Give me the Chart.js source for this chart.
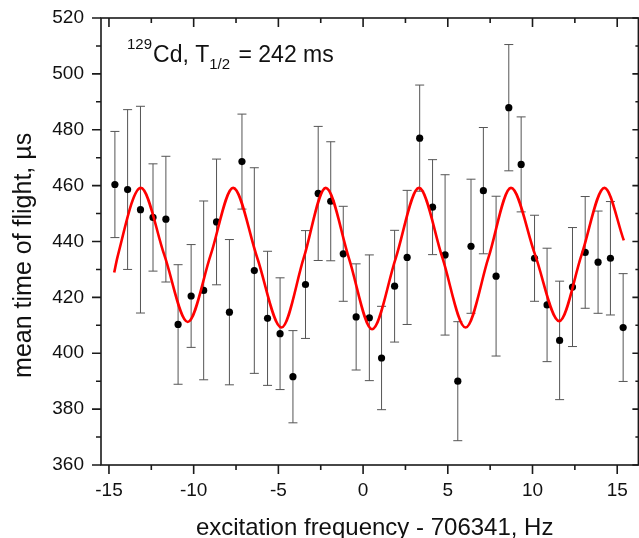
<!DOCTYPE html>
<html lang="en">
<head>
    <meta charset="UTF-8">
    <script src="https://cdn.jsdelivr.net/npm/chart.js@4.4.1/dist/chart.umd.min.js"></script>
    <title>129Cd TOF resonance</title>
    <style>
        body {
            margin: 0;
            background: #fff;
        }
        #tof {
            display: block;
        }
    </style>
</head>
<body>
<canvas id="tof" width="639" height="538"></canvas>
<script>
    // measured points: frequency offset (Hz), mean TOF (us), error bar half-length (us)
    const freq = [-14.65, -13.9, -13.14, -12.4, -11.64, -10.92, -10.15, -9.41, -8.65, -7.89,
        -7.15, -6.42, -5.64, -4.9, -4.14, -3.4, -2.65, -1.91, -1.17, -0.41,
        0.37, 1.09, 1.86, 2.6, 3.34, 4.1, 4.84, 5.59, 6.37, 7.1,
        7.85, 8.6, 9.33, 10.12, 10.86, 11.6, 12.36, 13.11, 13.87, 14.6, 15.35];
    const tof = [460.4, 458.6, 451.4, 448.6, 448.0, 410.3, 420.5, 422.5, 447.0, 414.7,
        468.6, 429.6, 412.5, 407.0, 391.6, 424.6, 457.2, 454.4, 435.6, 413.0,
        412.7, 398.3, 424.0, 434.3, 477.0, 452.3, 435.2, 390.0, 438.3, 458.2,
        427.6, 487.9, 467.6, 434.0, 417.3, 404.6, 423.7, 436.1, 432.6, 434.0, 409.2];
    const tofErr = [19, 28.6, 37, 19.2, 22.5, 21.4, 18.4, 32, 22.5, 26,
        17, 36.8, 24, 20, 16.5, 19.3, 24, 21.3, 17, 19,
        22.5, 18.5, 20, 24, 19, 17, 28.7, 21.3, 24, 22.6,
        28.6, 22.6, 17, 15.4, 20.3, 21.2, 21.3, 20, 18.3, 20.3, 19.3];

    // fit curve (peaks, troughs, crossings)
    const fitFreq = [-14.69, -14.49, -13.12, -11.73, -10.35, -9.0, -7.67, -6.25, -4.82, -3.5,
        -2.2, -0.83, 0.53, 1.92, 3.3, 4.68, 6.05, 7.4, 8.73, 10.15,
        11.58, 12.9, 14.25, 15.39];
    const fitTof = [428.9, 434.6, 459.2, 435.1, 411.2, 435.1, 459.2, 434.2, 409.2, 434.2,
        459.2, 433.9, 408.6, 433.9, 459.2, 434.2, 409.2, 434.2, 459.2, 435.3,
        411.5, 435.3, 459.2, 440.4];

    const xTickLabels = [-15, -10, -5, 0, 5, 10, 15];
    const yTickLabels = [360, 380, 400, 420, 440, 460, 480, 500, 520];
    const xFrameRight = 16.25; // right frame sits just past the canvas edge

    const fontFam = "'Liberation Sans', Arial, sans-serif";

    // error bars under the dots
    const errorBars = {
        id: 'errorBars',
        beforeDatasetsDraw(chart) {
            const {ctx, scales: {x, y}} = chart;
            ctx.save();
            ctx.strokeStyle = '#555';
            ctx.lineWidth = 1;
            ctx.beginPath();
            for (let i = 0; i < freq.length; i++) {
                const px = x.getPixelForValue(freq[i]);
                const top = y.getPixelForValue(tof[i] + tofErr[i]);
                const bot = y.getPixelForValue(tof[i] - tofErr[i]);
                ctx.moveTo(px, top); ctx.lineTo(px, bot);
                ctx.moveTo(px - 4.5, top); ctx.lineTo(px + 4.5, top);
                ctx.moveTo(px - 4.5, bot); ctx.lineTo(px + 4.5, bot);
            }
            ctx.stroke();
            ctx.restore();
        }
    };

    // box frame with ticks on all four sides (outside bottom/left, inside top/right)
    const frame = {
        id: 'frame',
        afterDraw(chart) {
            const {ctx, chartArea: a, scales: {x, y}} = chart;
            const right = x.getPixelForValue(xFrameRight);
            ctx.save();
            ctx.strokeStyle = '#1a1a1a';
            ctx.lineWidth = 1.6;
            ctx.strokeRect(a.left, a.top, right - a.left, a.bottom - a.top);
            ctx.beginPath();
            for (let i = 0; i < xTickLabels.length; i++) {
                const major = x.getPixelForValue(xTickLabels[i]);
                ctx.moveTo(major, a.bottom); ctx.lineTo(major, a.bottom + 9);
                ctx.moveTo(major, a.top); ctx.lineTo(major, a.top + 9);
                if (i < xTickLabels.length - 1) {
                    const minor = x.getPixelForValue((xTickLabels[i] + xTickLabels[i + 1]) / 2);
                    ctx.moveTo(minor, a.bottom); ctx.lineTo(minor, a.bottom + 5);
                    ctx.moveTo(minor, a.top); ctx.lineTo(minor, a.top + 5);
                }
            }
            for (let i = 0; i < yTickLabels.length; i++) {
                const major = y.getPixelForValue(yTickLabels[i]);
                ctx.moveTo(a.left, major); ctx.lineTo(a.left - 9, major);
                ctx.moveTo(right, major); ctx.lineTo(right - 6, major);
                if (i < yTickLabels.length - 1) {
                    const minor = y.getPixelForValue((yTickLabels[i] + yTickLabels[i + 1]) / 2);
                    ctx.moveTo(a.left, minor); ctx.lineTo(a.left - 5, minor);
                    ctx.moveTo(right, minor); ctx.lineTo(right - 3, minor);
                }
            }
            ctx.stroke();

            // label in the corner: 129Cd, T1/2 = 242 ms
            ctx.fillStyle = '#111';
            ctx.textBaseline = 'alphabetic';
            let tx = 127;
            ctx.font = '15px ' + fontFam;
            ctx.fillText('129', tx, 49);
            tx += ctx.measureText('129').width + 1;
            ctx.font = '23px ' + fontFam;
            ctx.fillText('Cd, T', tx, 62);
            tx += ctx.measureText('Cd, T').width;
            ctx.font = '15px ' + fontFam;
            ctx.fillText('1/2', tx, 69);
            tx += ctx.measureText('1/2').width + 2;
            ctx.font = '23px ' + fontFam;
            ctx.fillText(' = 242 ms', tx, 62);
            ctx.restore();
        }
    };

    const chart = new Chart(document.getElementById('tof'), {
        type: 'scatter',
        data: {
            datasets: [{
                type: 'line',
                label: 'fit',
                data: fitFreq.map((v, i) => ({x: v, y: fitTof[i]})),
                borderColor: '#ff0000',
                borderWidth: 2.6,
                pointRadius: 0,
                fill: false,
                cubicInterpolationMode: 'monotone'
            }, {
                label: 'data',
                data: freq.map((v, i) => ({x: v, y: tof[i]})),
                backgroundColor: '#000',
                borderColor: '#000',
                pointRadius: 3.6,
                pointBorderWidth: 0
            }]
        },
        options: {
            responsive: false,
            animation: false,
            layout: {
                padding: {left: 0, right: 0, top: 18, bottom: 0}
            },
            plugins: {
                legend: {display: false},
                tooltip: {enabled: false}
            },
            scales: {
                x: {
                    type: 'linear',
                    min: -15.47,
                    max: 16.05,
                    afterBuildTicks: s => { s.ticks = xTickLabels.map(v => ({value: v})); },
                    afterFit: s => { s.height = 73; s.paddingLeft = 0; s.paddingRight = 0; },
                    grid: {display: false, drawTicks: false},
                    border: {display: false},
                    ticks: {
                        padding: 14,
                        color: '#111',
                        maxRotation: 0,
                        font: {family: fontFam, size: 19}
                    },
                    title: {
                        display: true,
                        text: '  excitation frequency - 706341, Hz',
                        color: '#111',
                        padding: {top: 0, bottom: -5},
                        font: {family: fontFam, size: 24}
                    }
                },
                y: {
                    type: 'linear',
                    min: 360,
                    max: 520,
                    afterBuildTicks: s => { s.ticks = yTickLabels.map(v => ({value: v})); },
                    afterFit: s => { s.width = 101; s.paddingTop = 0; s.paddingBottom = 0; },
                    grid: {display: false, drawTicks: false},
                    border: {display: false},
                    ticks: {
                        padding: 17,
                        color: '#111',
                        font: {family: fontFam, size: 19}
                    },
                    title: {
                        display: true,
                        text: 'mean time of flight, µs    ',
                        color: '#111',
                        padding: {top: 9, bottom: 0},
                        font: {family: fontFam, size: 25}
                    }
                }
            }
        },
        plugins: [errorBars, frame]
    });
</script>
</body>
</html>
